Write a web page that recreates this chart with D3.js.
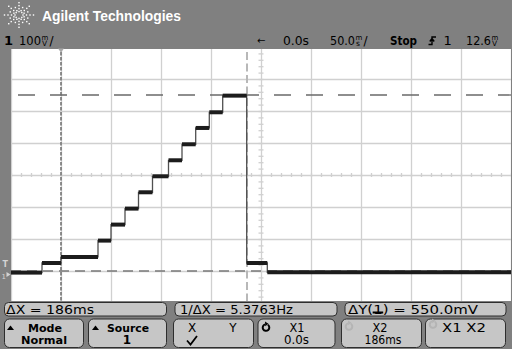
<!DOCTYPE html>
<html>
<head>
<meta charset="utf-8">
<script src="https://cdn.jsdelivr.net/npm/d3@7"></script>
<style>
  body { margin: 0; background: #808080; }
  svg { display: block; font-family: 'DejaVu Sans', sans-serif; }
</style>
</head>
<body>
<svg id="scope" width="512" height="349"></svg>
<script>
// staircase: start of each step (ms) and its level (mV)
const stepTimes = [-50, -19, 0, 37, 50, 64, 77.5, 91.5, 107.5, 121, 134.7, 148.3, 161.7, 185.7, 206.3]
const stepLevels = [-5, 25, 44, 95, 145, 195, 246, 296, 346, 396, 447, 496, 548, 25, -4]
const traceEnd = 450

const cursorTimes = [0, 186]   // X1, X2
const cursorLevels = [550, 0]  // Y1, Y2

const timeDomain = [-50, 450]  // 50 ms/div
const voltDomain = [-100, 700] // 100 mV/div

const measureLabels = ['ΔX = 186ms', '1/ΔX = 5.3763Hz', 'ΔY(1) = 550.0mV']
const softkeyTop = ['Mode', 'Source', 'X', 'X1', 'X2', 'X1 X2']
const softkeyBottom = ['Normal', '1', '', '0.0s', '186ms', '']

const svg = d3.select('#scope')
const x = d3.scaleLinear().domain(timeDomain).range([11, 511])
const y = d3.scaleLinear().domain(voltDomain).range([303, 47])

function label(g, px, py, str, o = {}) {
    const t = g.append('text')
        .attr('x', px)
        .attr('y', py)
        .attr('font-size', o.size || 11)
        .attr('fill', o.fill || '#000')
        .text(str)
    if (o.bold) t.attr('font-weight', 'bold')
    if (o.anchor) t.attr('text-anchor', o.anchor)
    if (o.family) t.attr('font-family', o.family)
    if (o.len) t.attr('textLength', o.len).attr('lengthAdjust', 'spacingAndGlyphs')
    return t
}

// value + stacked unit (m over V / s) + optional slash, as one text
function reading(g, px, num, numLen, top, bottom, slash) {
    const t = g.append('text').attr('x', px).attr('y', 45).attr('font-size', 12)
    t.append('tspan').attr('textLength', numLen).attr('lengthAdjust', 'spacingAndGlyphs').text(num)
    t.append('tspan').attr('x', px + numLen + 0.5).attr('y', 39.5).attr('font-size', 7).text(top)
    t.append('tspan').attr('x', px + numLen + 1).attr('y', 45.5).attr('font-size', 7.5).text(bottom)
    if (slash) t.append('tspan').attr('x', px + numLen + 8.5).attr('y', 45).text('/')
    return t
}

svg.append('rect').attr('width', 512).attr('height', 349).attr('fill', '#808080')

// ---- header
const logo = svg.append('g').attr('transform', 'translate(19,15)')
for (let a = 0; a < 360; a += 22.5) {
    const major = a % 45 === 0
    const radii = major ? [4, 7.5, 11, 14.5] : [5.5, 9.5]
    radii.forEach(r => {
        const rad = (a * Math.PI) / 180
        logo.append('rect')
            .attr('x', Math.cos(rad) * r - 0.7)
            .attr('y', Math.sin(rad) * r * 0.85 - 0.7)
            .attr('width', 1.4)
            .attr('height', 1.4)
            .attr('fill', '#fff')
    })
}
label(svg, 42, 21, 'Agilent Technologies', { size: 15, bold: true, fill: '#fff', family: "'Liberation Sans', Arial, sans-serif", len: 139 })

// ---- status line
const status = svg.append('g')
label(status, 4, 45, '1', { size: 13, bold: true })
reading(status, 19, '100', 22, 'm', 'V', true)
label(status, 257, 44, '←', { size: 10 })
label(status, 283, 45, '0.0s', { size: 12, len: 26 })
reading(status, 330, '50.0', 25, 'm', 's', true)
label(status, 390, 45, 'Stop', { size: 11.5, bold: true, len: 27 })
status.append('path')
    .attr('d', 'M428.5,44.5 h3.5 v-7.5 h4 M429.8,41.5 l2.2,-3 l2.2,3')
    .attr('fill', 'none')
    .attr('stroke', '#000')
    .attr('stroke-width', 1.4)
label(status, 443.5, 45, '1', { size: 13 })
reading(status, 466, '12.6', 25, 'm', 'V', false)

// ---- screen
svg.append('clipPath').attr('id', 'screen')
    .append('rect').attr('x', 11).attr('y', 49).attr('width', 500).attr('height', 252)
svg.append('rect').attr('x', 11).attr('y', 49).attr('width', 500).attr('height', 252).attr('fill', '#fff')
const plot = svg.append('g').attr('clip-path', 'url(#screen)')

const gridColor = '#d0d0d0'
plot.append('g')
    .attr('transform', `translate(0,${y.range()[0]})`)
    .call(d3.axisBottom(x).ticks(10).tickSize(-256).tickFormat(''))
    .call(g => g.select('.domain').remove())
    .call(g => g.selectAll('line').attr('stroke', gridColor).attr('stroke-width', 1.3))
plot.append('g')
    .attr('transform', `translate(${x.range()[0]},0)`)
    .call(d3.axisLeft(y).ticks(8).tickSize(-500).tickFormat(''))
    .call(g => g.select('.domain').remove())
    .call(g => g.selectAll('line').attr('stroke', gridColor).attr('stroke-width', 1.3))

// minor ticks on the centre lines
const midT = (timeDomain[0] + timeDomain[1]) / 2
const midV = (voltDomain[0] + voltDomain[1]) / 2
plot.append('g')
    .attr('transform', `translate(0,${y(midV) - 2})`)
    .call(d3.axisBottom(x).ticks(50).tickSize(4).tickFormat(''))
    .call(g => g.select('.domain').remove())
    .call(g => g.selectAll('line').attr('stroke', gridColor).attr('stroke-width', 1.3))
plot.append('g')
    .attr('transform', `translate(${x(midT) - 2.5},0)`)
    .call(d3.axisRight(y).ticks(40).tickSize(5).tickFormat(''))
    .call(g => g.select('.domain').remove())
    .call(g => g.selectAll('line').attr('stroke', gridColor).attr('stroke-width', 1.3))

// cursors
const cursorX = [
    { dash: '3.5 1.5', color: '#747474', width: 1.6 },
    { dash: '8 3.5', color: '#b8b8b8', width: 2 }
]
cursorTimes.forEach((t, i) => {
    plot.append('line')
        .attr('x1', x(t)).attr('x2', x(t))
        .attr('y1', 52).attr('y2', 301)
        .attr('stroke', cursorX[i].color)
        .attr('stroke-width', cursorX[i].width)
        .attr('stroke-dasharray', cursorX[i].dash)
})
const cursorY = [
    { dash: '17 15', offset: 25, color: '#6a6a6a' },
    { dash: '10 6', offset: 0, color: '#7a7a7a' }
]
cursorLevels.forEach((v, i) => {
    plot.append('line')
        .attr('x1', 11).attr('x2', 511)
        .attr('y1', y(v)).attr('y2', y(v))
        .attr('stroke', cursorY[i].color)
        .attr('stroke-width', 1.3)
        .attr('stroke-dasharray', cursorY[i].dash)
        .attr('stroke-dashoffset', cursorY[i].offset)
})

// trace
const pts = stepTimes.map((t, i) => [t, stepLevels[i]])
pts.push([traceEnd, stepLevels[stepLevels.length - 1]])
const stepLine = d3.line().x(d => x(d[0])).y(d => y(d[1])).curve(d3.curveStepAfter)
plot.append('path')
    .datum(pts)
    .attr('d', stepLine)
    .attr('fill', 'none')
    .attr('stroke', '#505050')
    .attr('stroke-width', 1.3)

const segs = stepTimes.map((t, i) => ({
    t0: t,
    t1: i + 1 < stepTimes.length ? stepTimes[i + 1] : traceEnd,
    v: stepLevels[i]
}))
plot.selectAll('line.level')
    .data(segs)
    .join('line')
    .classed('level', true)
    .attr('x1', d => x(d.t0))
    .attr('x2', d => x(d.t1))
    .attr('y1', d => y(d.v))
    .attr('y2', d => y(d.v))
    .attr('stroke', '#1c1c1c')
    .attr('stroke-width', 4)

// time reference marker
svg.append('path')
    .attr('d', `M${x(cursorTimes[0]) - 3},48.5 h6 l-3,4 Z`)
    .attr('fill', '#a8a8a8')

// channel ground / trigger markers in the left margin
label(svg, 2.5, y(12.6) + 0.5, 'T', { size: 8, bold: true, fill: '#d4d4d4' })
label(svg, 1.5, y(0) + 7.5, '1', { size: 7, fill: '#d4d4d4' })
svg.append('path')
    .attr('d', `M6.5,${y(0) + 1} l4,2.5 l-4,2.5 Z`)
    .attr('fill', '#d4d4d4')

// ---- measurement line
const boxFill = '#c6c6c6'
const boxStroke = '#2e2e2e'
const measureBoxes = [[4.5, 162], [175, 162], [345, 161]]
const measureText = [[6, 88], [180, 113], [348, 130]]
measureBoxes.forEach((b, i) => {
    svg.append('rect')
        .attr('x', b[0]).attr('y', 302.5)
        .attr('width', b[1]).attr('height', 13.5)
        .attr('rx', 4)
        .attr('fill', boxFill)
        .attr('stroke', boxStroke)
    const t = label(svg, measureText[i][0], 313.7, measureLabels[i], { size: 11.5, len: measureText[i][1] })
    if (i === 2) {
        const ext = t.node().getExtentOfChar(3)
        svg.append('rect')
            .attr('x', ext.x - 0.5).attr('y', 311.5)
            .attr('width', ext.width + 1).attr('height', 2)
            .attr('fill', '#000')
    }
})

// ---- softkeys
const keyBoxes = [[4.5, 79], [88.5, 78], [173.5, 80], [258, 77], [341.5, 80], [425.5, 80]]
keyBoxes.forEach(b => {
    svg.append('rect')
        .attr('x', b[0]).attr('y', 319)
        .attr('width', b[1]).attr('height', 28.5)
        .attr('rx', 5)
        .attr('fill', boxFill)
        .attr('stroke', boxStroke)
})
const keys = svg.append('g')
keys.append('path').attr('d', 'M7,330 l3.5,-4.5 l3.5,4.5 Z').attr('fill', '#000')
keys.append('path').attr('d', 'M92,330 l3.5,-4.5 l3.5,4.5 Z').attr('fill', '#000')
label(keys, 45, 332, softkeyTop[0], { bold: true, anchor: 'middle', len: 34 })
label(keys, 44, 343.5, softkeyBottom[0], { bold: true, anchor: 'middle', len: 46 })
label(keys, 128, 332, softkeyTop[1], { bold: true, anchor: 'middle', len: 42 })
label(keys, 127, 343.5, softkeyBottom[1], { bold: true, anchor: 'middle', size: 12 })
label(keys, 192, 331.5, softkeyTop[2], { anchor: 'middle', size: 12 })
label(keys, 233, 331.5, 'Y', { anchor: 'middle', size: 12 })
keys.append('path')
    .attr('d', 'M187,340.5 l3.5,4 l6.5,-8.5')
    .attr('fill', 'none')
    .attr('stroke', '#000')
    .attr('stroke-width', 1.8)
label(keys, 297, 331.5, softkeyTop[3], { anchor: 'middle', size: 12, len: 15 })
label(keys, 296.5, 343.5, softkeyBottom[3], { anchor: 'middle', size: 12, len: 25 })
label(keys, 380, 331.5, softkeyTop[4], { anchor: 'middle', size: 12, len: 15 })
label(keys, 383, 343.5, softkeyBottom[4], { anchor: 'middle', size: 12, len: 37 })
label(keys, 442, 332.3, softkeyTop[5], { size: 12, len: 44 })

// rotate icons (entry knob)
const arc = d3.arc().innerRadius(3.3).outerRadius(3.3).startAngle(0.6).endAngle(2 * Math.PI - 0.3)
function knob(cx, cy, color) {
    const g = keys.append('g').attr('transform', `translate(${cx},${cy})`)
    g.append('path').attr('d', arc()).attr('fill', 'none').attr('stroke', color).attr('stroke-width', 2)
    g.append('path').attr('d', 'M-1,-6 l3.5,2.3 l-3.2,2.4 Z').attr('fill', color)
}
knob(266, 327.5, '#000')
knob(349, 326.5, '#b4b4b4')
knob(433, 324.5, '#b4b4b4')
</script>
</body>
</html>
